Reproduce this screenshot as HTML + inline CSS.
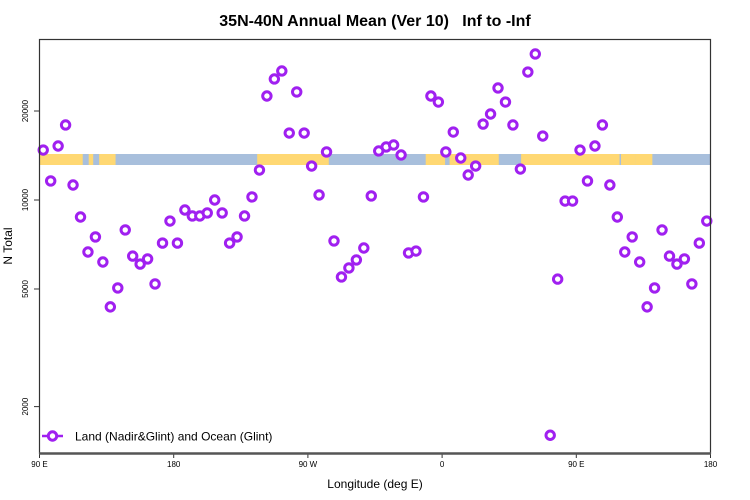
<!DOCTYPE html>
<html><head><meta charset="utf-8"><style>
body{margin:0;background:#fff;}
svg{display:block;font-family:"Liberation Sans",sans-serif;}
</style></head><body>
<svg id="chart" width="750" height="500">
<text x="375" y="26" text-anchor="middle" font-size="16" font-weight="bold" style="white-space:pre">35N-40N Annual Mean (Ver 10)&#160;&#160; Inf to -Inf</text>
<g id="band"></g>
<g id="axes"></g>
<g id="marks"></g>
<rect x="39.5" y="39.5" width="671" height="414" fill="none" stroke="#333" stroke-width="1.2"/>
<line x1="39" y1="453.5" x2="711" y2="453.5" stroke="#555" stroke-width="2.5"/>
<text transform="translate(12,246) rotate(-90)" text-anchor="middle" font-size="12">N Total</text>
<text x="375" y="488" text-anchor="middle" font-size="12">Longitude (deg E)</text>
<g>
<line x1="42" y1="436" x2="63" y2="436" stroke="#a020f0" stroke-width="2.5"/>
<circle cx="52.5" cy="436" r="4.2" fill="#fff" stroke="#a020f0" stroke-width="3"/>
<text x="75" y="440.5" font-size="12">Land (Nadir&amp;Glint) and Ocean (Glint)</text>
</g>
</svg>
<script>
// longitude bins (continuous deg, 92.5 .. 447.5) and values
const lonStart = 92.5, lonStep = 5;
const values = [14760,11600,15230,17940,11240,8760,6670,7500,6170,4350,5040,7920,6460,6070,6320,5200,7150,8490,7150,9250,8830,8830,9040,10000,9040,7150,7500,8830,10240,12630,22480,25670,27320,16850,23200,16850,13030,10400,14540,7270,5490,5890,6270,6880,10320,14650,15120,15350,14200,6620,6720,10240,22480,21450,14540,16980,13870,12150,13030,18070,19540,23930,21450,17940,12730,27100,31190,16460,1600,5400,9920,9920];
const yTicks = [2000,5000,10000,20000];
const xTickLabels = ["90 E","180","90 W","0","90 E","180"];
const xTickLons = [90,180,270,360,450,540];
// land (yellow) spans in continuous longitude
const landSpans = [[90,119],[123,126],[130,141],[236,284],[349,362],[365,398],[413,475],[480,490]];

const X0=39.5, X1=710.5, L0=90, L1=540;
const xs = l => X0 + (l-L0)*(X1-X0)/(L1-L0);
const ys = v => 200 - 295.6*Math.log10(v/10000);
const NS="http://www.w3.org/2000/svg";
function mk(tag, attrs, parent){const e=document.createElementNS(NS,tag);for(const k in attrs)e.setAttribute(k,attrs[k]);parent.appendChild(e);return e;}

const band=document.getElementById('band');
let r=mk('rect',{x:X0,y:154,width:X1-X0,height:11,fill:'#a8bfdc'},band);


landSpans.forEach(s=>{
  [0,360].forEach(off=>{
    const a=Math.max(L0,s[0]+off), b=Math.min(L1,s[1]+off);
    if(b>a){const e=mk('rect',{x:xs(a),y:154,width:xs(b)-xs(a),height:11,fill:'#ffd873'},band);
      
      }
  });
});

const axes=document.getElementById('axes');
yTicks.forEach(v=>{
  const y=ys(v);
  const t=mk('line',{x1:34,x2:39.5,y1:y,y2:y,stroke:'#333'},axes);
  
  
  const tx=mk('text',{transform:`translate(28,${y}) rotate(-90)`,'text-anchor':'middle','font-size':'8'},axes);
  tx.textContent=v;
  
  
});
xTickLons.forEach((l,i)=>{
  const x=xs(l);
  const t=mk('line',{x1:x,x2:x,y1:453,y2:458,stroke:'#333'},axes);
  
  
  const tx=mk('text',{x:x,y:467,'text-anchor':'middle','font-size':'8'},axes);
  tx.textContent=xTickLabels[i];
  
  
});

const marks=document.getElementById('marks');
values.forEach((v,i)=>{
  const lon=lonStart+i*lonStep;
  [0,360].forEach(off=>{
    const l=lon+off;
    if(l>=L0 && l<=L1){
      const c=mk('circle',{cx:xs(l),cy:ys(v),r:4.2,fill:'#fff',stroke:'#a020f0','stroke-width':3},marks);
      
      
    }
  });
});
</script>
</body></html>
